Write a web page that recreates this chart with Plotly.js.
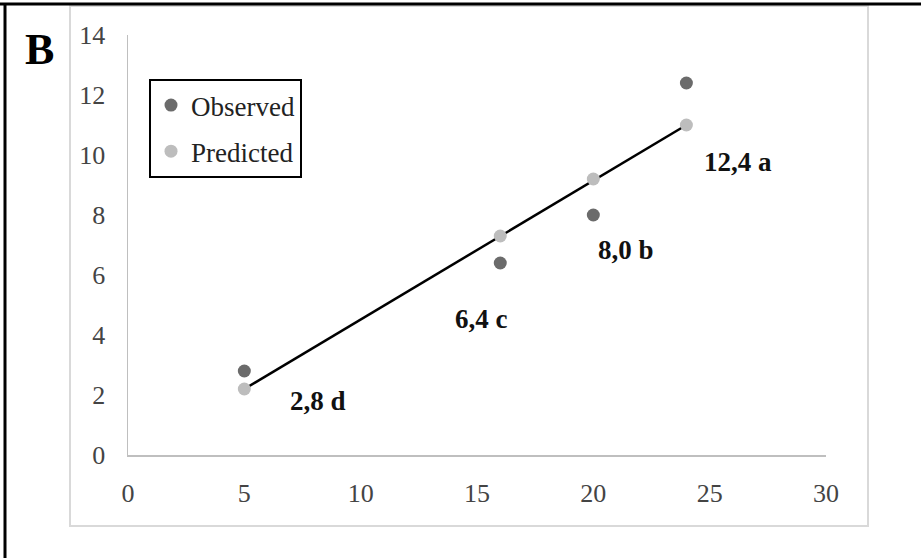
<!DOCTYPE html>
<html>
<head>
<meta charset="utf-8">
<script src="https://cdn.plot.ly/plotly-3.0.1.min.js"></script>
<style>html,body{margin:0;padding:0;background:#fff;}#chart{width:921px;height:558px;}</style>
</head>
<body>
<div id="chart"></div>
<script>
// Data
const xValues = [5, 16, 20, 24];
const observed = [2.8, 6.4, 8.0, 12.4];
const predicted = [2.2, 7.3, 9.2, 11.0];
const trendX = [5, 24];
const trendY = [2.2, 11.0];
const pointLabels = ["2,8 d", "6,4 c", "8,0 b", "12,4 a"];
const labelX = [8.17, 15.2, 21.4, 26.2];
const labelY = [1.8, 4.53, 6.83, 9.77];
const xTicks = [0, 5, 10, 15, 20, 25, 30];
const yTicks = [0, 2, 4, 6, 8, 10, 12, 14];
const panelLabel = "B";

const serif = "Liberation Serif, Times New Roman, serif";

const W = 921, H = 558, L = 128, R = 95, T = 35, B = 103;
const pw = W - L - R, ph = H - T - B;
const px = v => (v - L) / pw;
const py = v => (H - B - v) / ph;

const traces = [
  {x: trendX, y: trendY, mode: "lines", line: {color: "#000", width: 2.5}, showlegend: false, hoverinfo: "skip"},
  {x: xValues, y: observed, mode: "markers", name: "Observed", legendgroup: "a",
   marker: {color: "#6b6b6b", size: 13}},
  {x: xValues, y: predicted, mode: "markers", name: "Predicted", legendgroup: "b",
   marker: {color: "#bdbdbd", size: 13}}
];

const annotations = pointLabels.map((t, i) => ({
  x: labelX[i], y: labelY[i], xref: "x", yref: "y", text: "<b>" + t + "</b>",
  showarrow: false, xanchor: "center", yanchor: "middle",
  font: {family: serif, size: 27, color: "#111"}
}));
annotations.push({
  x: px(39), y: py(50), xref: "paper", yref: "paper", text: "<b>" + panelLabel + "</b>",
  showarrow: false, xanchor: "center", yanchor: "middle",
  font: {family: serif, size: 44, color: "#000"}
});

const layout = {
  width: W, height: H,
  margin: {l: L, r: R, t: T, b: B},
  paper_bgcolor: "#fff", plot_bgcolor: "#fff",
  showlegend: true,
  legend: {
    x: px(149), y: py(79), xanchor: "left", yanchor: "top",
    bordercolor: "#000", borderwidth: 2, bgcolor: "#fff",
    font: {family: serif, size: 27, color: "#222"},
    tracegroupgap: 8
  },
  xaxis: {
    range: [0, 30], tickvals: xTicks, ticktext: xTicks.map(String),
    showgrid: false, zeroline: false, showline: true, linecolor: "#bfbfbf", linewidth: 1.5,
    ticks: "", ticklabelstandoff: 14,
    tickfont: {family: serif, size: 26, color: "#444"}, fixedrange: true
  },
  yaxis: {
    range: [0, 14], tickvals: yTicks, ticktext: yTicks.map(String),
    showgrid: false, zeroline: false, showline: true, linecolor: "#bfbfbf", linewidth: 1.5,
    ticks: "", ticklabelstandoff: 16,
    tickfont: {family: serif, size: 26, color: "#444"}, fixedrange: true
  },
  shapes: [
    {type: "rect", xref: "paper", yref: "paper", x0: px(70), x1: px(868), y0: py(526), y1: py(6),
     line: {color: "#d9d9d9", width: 2}, layer: "below"},
    {type: "line", xref: "paper", yref: "paper", x0: px(0), x1: px(921), y0: py(4), y1: py(4),
     line: {color: "#000", width: 3}},
    {type: "line", xref: "paper", yref: "paper", x0: px(5), x1: px(5), y0: py(4), y1: py(558),
     line: {color: "#000", width: 3}}
  ],
  annotations: annotations
};

Plotly.newPlot("chart", traces, layout, {displayModeBar: false, staticPlot: true});
</script>
</body>
</html>
